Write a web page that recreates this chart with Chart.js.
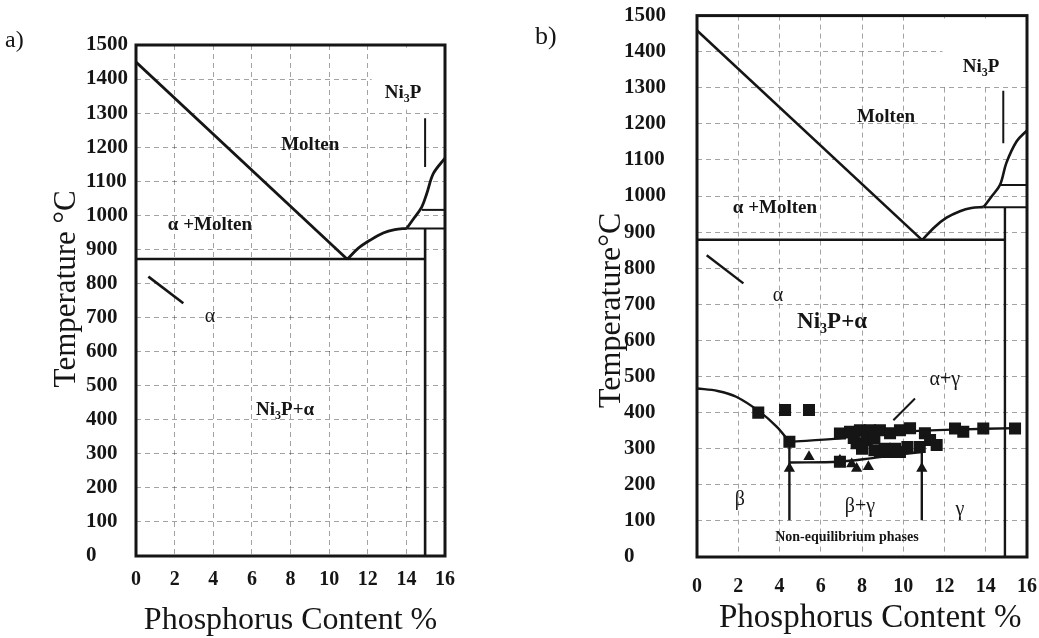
<!DOCTYPE html>
<html>
<head>
<meta charset="utf-8">
<script src="https://cdn.jsdelivr.net/npm/chart.js@4.4.1/dist/chart.umd.min.js"></script>
<style>
  html, body { margin: 0; padding: 0; background: #fff; }
  #wrap { position: relative; width: 1039px; height: 638px; overflow: hidden; background: #fff; }
  #ca { position: absolute; left: 0; top: 0; width: 520px; height: 638px; }
  #cb { position: absolute; left: 520px; top: 0; width: 519px; height: 638px; }
</style>
</head>
<body>
<div id="wrap">
  <canvas id="ca" width="520" height="638"></canvas>
  <canvas id="cb" width="519" height="638"></canvas>
</div>
<script>
// ---- axis ticks -------------------------------------------------------
const pTicks = [0, 2, 4, 6, 8, 10, 12, 14, 16];
const tTicks = [0, 100, 200, 300, 400, 500, 600, 700, 800, 900, 1000, 1100, 1200, 1300, 1400, 1500];

// ---- panel a: equilibrium Ni–P diagram  [P %, T °C] ----------------------
const aLiquidusNi   = [[0, 1450], [10.94, 871]];
const aLiquidusP    = [[10.94, 871], [11.5, 903], [12.12, 927], [12.8, 948], [13.4, 958], [14.02, 962]];
const aLiquidusNi3P = [[14.02, 962], [14.4, 992], [14.8, 1025], [15.06, 1065], [15.4, 1123], [16, 1168]];
const aEutectic     = [[0, 872], [14.97, 872]];
const aNi3PEdge     = [[14.97, 962], [14.97, 0]];
const aStepHigh     = [[14.8, 1016], [16, 1016]];
const aStepLow      = [[14.02, 961], [16, 961]];
const aNi3PPointer  = [[14.97, 1285], [14.97, 1142]];
const aSolvus       = [[0.64, 820], [2.45, 742]];
const aNi3PClear    = [12.2, 1310, 16, 1492];

// ---- panel b: with non-equilibrium phases -------------------------------
const bLiquidusNi   = [[0, 1459], [10.92, 878]];
const bLiquidusP    = [[10.92, 878], [11.5, 913], [12.1, 940], [12.75, 958], [13.3, 967], [13.9, 970]];
const bLiquidusNi3P = [[13.9, 970], [14.3, 1000], [14.7, 1032], [15.0, 1092], [15.5, 1152], [16, 1182]];
const bEutectic     = [[0, 879], [14.93, 879]];
const bNi3PEdge     = [[14.93, 970], [14.93, 0]];
const bStepHigh     = [[14.7, 1031], [16, 1031]];
const bStepLow      = [[13.9, 969], [16, 969]];
const bNi3PPointer  = [[14.85, 1292], [14.85, 1146]];
const bSolvus       = [[0.47, 836], [2.25, 758]];
const bBetaBoundary = [[0, 467], [1.0, 460], [1.9, 444], [3.05, 402], [3.86, 361], [4.48, 319]];
const bBetaLimit    = [[4.48, 319], [4.48, 102]];
const bGammaLimit   = [[10.9, 318], [10.9, 102]];
const bUpperLine    = [[4.48, 319], [6.8, 328], [8, 337], [10, 347], [12.5, 353], [15.5, 357]];
const bLowerLine    = [[4.48, 262], [6.9, 264], [8.5, 274], [10, 285], [10.9, 291]];
const bGammaPointer = [[10.57, 439], [9.52, 379]];
const bNi3PClear    = [11.9, 1310, 16, 1492];

// measured transformation temperatures
const bSquares = [
  [2.97, 400], [4.27, 407], [5.43, 407], [4.48, 319],
  [6.93, 342], [7.42, 347], [7.9, 351], [8.39, 351], [8.87, 351], [9.36, 343], [9.84, 351], [10.33, 357],
  [7.74, 315], [8.23, 324], [7.6, 330], [8.6, 330],
  [11.05, 343], [11.3, 324], [10.8, 305], [11.62, 310],
  [6.93, 264], [8.87, 291], [9.36, 291], [9.84, 291], [8.0, 300],
  [8.6, 296], [9.1, 300], [9.6, 300], [10.2, 305],
  [12.51, 356], [12.91, 347], [13.88, 356], [15.42, 356]
];
const bTriangles = [
  [4.48, 245], [5.43, 278], [6.93, 268], [7.74, 245], [8.31, 250], [7.5, 258], [10.9, 245]
];

// ---- region names (P %, T °C) -------------------------------------------
const aRegionNames = [
  { text: 'Molten',    p: 9.02, t: 1206, kind: 'phase' },
  { text: 'Ni₃P',      p: 13.83, t: 1359, kind: 'phase' },
  { text: 'α +Molten', p: 3.83, t: 971,  kind: 'phase' },
  { text: 'α',         p: 3.83, t: 701,  kind: 'greek' },
  { text: 'Ni₃P+α',    p: 7.72, t: 428,  kind: 'phase' }
];
const bRegionNames = [
  { text: 'Molten',    p: 9.16, t: 1218, kind: 'phase' },
  { text: 'Ni₃P',      p: 13.77, t: 1356, kind: 'phase' },
  { text: 'α +Molten', p: 3.78, t: 966,  kind: 'phase' },
  { text: 'α',         p: 3.93, t: 725,  kind: 'greek' },
  { text: 'Ni₃P+α',    p: 6.55, t: 650,  kind: 'phaseLarge' },
  { text: 'α+γ',       p: 12.02, t: 490, kind: 'greek' },
  { text: 'β',         p: 2.08, t: 158,  kind: 'greek' },
  { text: 'β+γ',       p: 7.9, t: 138,   kind: 'greek' },
  { text: 'γ',         p: 12.75, t: 130, kind: 'greek' },
  { text: 'Non-equilibrium phases', p: 7.27, t: 53, kind: 'note' }
];

// ---- styling ------------------------------------------------------------
const SERIF = '"Liberation Serif", "Times New Roman", Times, serif';
const INK = '#151515';
const GRID = 'rgba(0,0,0,0.36)';
const NAME_STYLES = {
  phase:      { size: 19, weight: 'bold' },
  phaseLarge: { size: 23, weight: 'bold' },
  greek:      { size: 20, weight: 'normal' },
  note:       { size: 14, weight: 'bold' }
};

Chart.defaults.font.family = SERIF;
Chart.defaults.color = INK;

const toXY = pts => pts.map(([x, y]) => ({ x, y }));

function boundary(pts, width, curved) {
  return {
    data: toXY(pts), showLine: true, pointRadius: 0, pointHoverRadius: 0,
    borderColor: INK, backgroundColor: INK, borderWidth: width,
    tension: curved ? 0.35 : 0, fill: false
  };
}

function markers(pts, style, radius) {
  return {
    data: toXY(pts), showLine: false, pointStyle: style, pointRadius: radius,
    pointHoverRadius: radius, backgroundColor: INK, borderColor: INK, borderWidth: 0
  };
}

// text with a lowered small '3' for the subscript in Ni3P
function drawRich(ctx, text, x, y, size, weight) {
  const parts = [];
  for (const ch of text) parts.push(ch === '₃' ? { s: '3', sub: true } : { s: ch, sub: false });
  const fontFor = sub => `${weight} ${sub ? Math.round(size * 0.62) : size}px ${SERIF}`;
  let w = 0;
  for (const part of parts) { ctx.font = fontFor(part.sub); part.w = ctx.measureText(part.s).width; w += part.w; }
  let cx = x - w / 2;
  ctx.textAlign = 'left';
  ctx.textBaseline = 'middle';
  for (const part of parts) {
    ctx.font = fontFor(part.sub);
    ctx.fillText(part.s, cx, y + (part.sub ? size * 0.3 : 0));
    cx += part.w;
  }
}

// region names, plus a cleared patch behind the Ni3P heading
const regionNamesPlugin = {
  id: 'regionNames',
  beforeDatasetsDraw(chart, args, opts) {
    const { ctx, scales: { x, y } } = chart;
    ctx.save();
    if (opts.clear) {
      const [p1, t1, p2, t2] = opts.clear;
      const x1 = x.getPixelForValue(p1), x2 = x.getPixelForValue(p2);
      const y1 = y.getPixelForValue(t2), y2 = y.getPixelForValue(t1);
      ctx.fillStyle = '#fff';
      ctx.fillRect(x1, y1, x2 - x1, y2 - y1);
    }
    ctx.fillStyle = INK;
    for (const n of opts.names || []) {
      const st = NAME_STYLES[n.kind];
      drawRich(ctx, n.text, x.getPixelForValue(n.p), y.getPixelForValue(n.t), st.size, st.weight);
    }
    ctx.restore();
  }
};

// heavy frame around the plotting area
const framePlugin = {
  id: 'frame',
  afterDatasetsDraw(chart, args, opts) {
    const { ctx, chartArea: a } = chart;
    ctx.save();
    ctx.strokeStyle = INK;
    ctx.lineWidth = opts.width || 3;
    ctx.strokeRect(a.left, a.top, a.right - a.left, a.bottom - a.top);
    ctx.restore();
  }
};

// panel letter in the top-left corner
const panelLetterPlugin = {
  id: 'panelLetter',
  afterDraw(chart, args, opts) {
    const { ctx } = chart;
    ctx.save();
    ctx.fillStyle = INK;
    ctx.font = `${opts.size}px ${SERIF}`;
    ctx.textAlign = 'left';
    ctx.textBaseline = 'alphabetic';
    ctx.fillText(opts.text, opts.x, opts.y);
    ctx.restore();
  }
};

function makeScales(cfg) {
  return {
    x: {
      type: 'linear', min: 0, max: 16,
      afterBuildTicks: s => { s.ticks = pTicks.map(v => ({ value: v })); },
      afterFit: s => {
        s.height = cfg.xHeight;
        // the end labels may overhang the frame; keep the plot width fixed
        s.paddingLeft = 0;
        s.paddingRight = 0;
      },
      grid: { color: GRID, lineWidth: 1, drawTicks: false },
      border: { display: false, dash: [5, 4] },
      ticks: {
        autoSkip: false, maxRotation: 0, padding: cfg.xTickPad, color: INK,
        font: { family: SERIF, size: 20, weight: 'bold' },
        callback: v => String(v)
      },
      title: {
        display: true, text: cfg.xTitle, color: INK,
        font: { family: SERIF, size: cfg.xTitleSize },
        padding: { top: 0, bottom: cfg.xTitlePad }
      }
    },
    y: {
      type: 'linear', min: 0, max: 1500,
      afterBuildTicks: s => { s.ticks = tTicks.map(v => ({ value: v })); },
      afterFit: s => { s.width = cfg.yWidth; },
      grid: { color: GRID, lineWidth: 1, drawTicks: false },
      border: { display: false, dash: [5, 4] },
      ticks: {
        autoSkip: false, crossAlign: 'far', color: INK,
        font: { family: SERIF, size: 21, weight: 'bold' },
        callback: v => String(v)
      },
      title: {
        display: true, text: cfg.yTitle, color: INK,
        font: { family: SERIF, size: cfg.yTitleSize },
        padding: { top: cfg.yTitlePad, bottom: 0 }
      }
    }
  };
}

const commonPlugins = [regionNamesPlugin, framePlugin, panelLetterPlugin];

// ---- panel a ------------------------------------------------------------
new Chart(document.getElementById('ca'), {
  type: 'scatter',
  data: {
    datasets: [
      boundary(aLiquidusNi, 2.8, false),
      boundary(aLiquidusP, 2.8, true),
      boundary(aLiquidusNi3P, 2.8, true),
      boundary(aEutectic, 2.6, false),
      boundary(aNi3PEdge, 2.6, false),
      boundary(aStepHigh, 2, false),
      boundary(aStepLow, 2, false),
      boundary(aNi3PPointer, 2, false),
      boundary(aSolvus, 2.6, false)
    ]
  },
  options: {
    responsive: false, animation: false, events: [],
    layout: { padding: { left: 86, right: 75, top: 45, bottom: 0 } },
    scales: makeScales({
      xHeight: 82, xTickPad: 12, xTitle: 'Phosphorus Content %', xTitleSize: 32, xTitlePad: -2,
      yWidth: 50, yTitle: '   Temperature °C', yTitleSize: 31, yTitlePad: -38
    }),
    plugins: {
      legend: { display: false }, tooltip: { enabled: false },
      regionNames: { names: aRegionNames, clear: aNi3PClear },
      frame: { width: 3 },
      panelLetter: { text: 'a)', x: 5, y: 47, size: 24 }
    }
  },
  plugins: commonPlugins
});

// ---- panel b ------------------------------------------------------------
new Chart(document.getElementById('cb'), {
  type: 'scatter',
  data: {
    datasets: [
      markers(bSquares, 'rect', 8.5),
      markers(bTriangles, 'triangle', 6.5),
      boundary(bLiquidusNi, 2.6, false),
      boundary(bLiquidusP, 2.6, true),
      boundary(bLiquidusNi3P, 2.6, true),
      boundary(bEutectic, 2.4, false),
      boundary(bNi3PEdge, 2.4, false),
      boundary(bStepHigh, 2, false),
      boundary(bStepLow, 2, false),
      boundary(bNi3PPointer, 2, false),
      boundary(bSolvus, 2.4, false),
      boundary(bBetaBoundary, 2.4, true),
      boundary(bBetaLimit, 2.4, false),
      boundary(bGammaLimit, 2.4, false),
      boundary(bUpperLine, 2.4, true),
      boundary(bLowerLine, 2.4, true),
      boundary(bGammaPointer, 2, false)
    ]
  },
  options: {
    responsive: false, animation: false, events: [],
    layout: { padding: { left: 104, right: 12, top: 15, bottom: 0 } },
    scales: makeScales({
      xHeight: 81, xTickPad: 18, xTitle: '  Phosphorus Content %', xTitleSize: 33, xTitlePad: 0,
      yWidth: 73, yTitle: 'Temperature°C      ', yTitleSize: 32, yTitlePad: -32
    }),
    plugins: {
      legend: { display: false }, tooltip: { enabled: false },
      regionNames: { names: bRegionNames, clear: bNi3PClear },
      frame: { width: 3 },
      panelLetter: { text: 'b)', x: 15, y: 44, size: 26 }
    }
  },
  plugins: commonPlugins
});
</script>
</body>
</html>
